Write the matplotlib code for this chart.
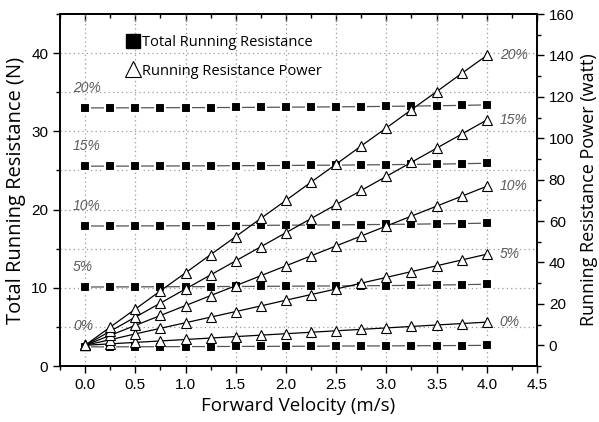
import matplotlib.pyplot as plt
from matplotlib.ticker import MultipleLocator
from matplotlib.lines import Line2D

# forward velocity (m/s)
velocity = [0.0, 0.25, 0.5, 0.75, 1.0, 1.25, 1.5, 1.75, 2.0,
            2.25, 2.5, 2.75, 3.0, 3.25, 3.5, 3.75, 4.0]

grades = ['0%', '5%', '10%', '15%', '20%']

# total running resistance (N), one list per slope
res_0 = [2.45, 2.45, 2.46, 2.47, 2.48, 2.49, 2.50, 2.51, 2.52,
         2.53, 2.55, 2.56, 2.57, 2.59, 2.60, 2.62, 2.64]
res_5 = [10.10, 10.11, 10.12, 10.13, 10.14, 10.15, 10.17, 10.18, 10.20,
         10.22, 10.24, 10.26, 10.28, 10.31, 10.35, 10.40, 10.45]
res_10 = [17.90, 17.90, 17.91, 17.92, 17.93, 17.95, 17.96, 17.98, 18.00,
          18.02, 18.04, 18.07, 18.10, 18.13, 18.17, 18.21, 18.26]
res_15 = [25.55, 25.55, 25.56, 25.57, 25.58, 25.59, 25.61, 25.62, 25.64,
          25.66, 25.68, 25.71, 25.74, 25.77, 25.81, 25.86, 25.92]
res_20 = [33.00, 33.00, 33.01, 33.02, 33.03, 33.04, 33.05, 33.07, 33.09,
          33.11, 33.13, 33.16, 33.19, 33.23, 33.27, 33.32, 33.38]

# running resistance power (watt)
pow_0 = [0.0, 0.7, 1.4, 2.1, 2.8, 3.5, 4.2, 4.9, 5.6,
         6.3, 7.0, 7.7, 8.4, 9.1, 9.8, 10.5, 11.2]
pow_5 = [0.0, 2.7, 5.5, 8.2, 10.9, 13.6, 16.3, 19.0, 21.8,
         24.5, 27.2, 30.0, 32.8, 35.6, 38.4, 41.2, 44.0]
pow_10 = [0.0, 4.8, 9.6, 14.4, 19.2, 24.0, 28.8, 33.6, 38.4,
          43.2, 48.0, 52.8, 57.6, 62.4, 67.2, 72.0, 76.8]
pow_15 = [0.0, 6.8, 13.6, 20.4, 27.2, 34.0, 40.8, 47.6, 54.4,
          61.2, 68.0, 74.8, 81.6, 88.4, 95.2, 102.0, 108.8]
pow_20 = [0.0, 8.8, 17.5, 26.3, 35.0, 43.8, 52.5, 61.3, 70.0,
          78.8, 87.5, 96.3, 105.0, 113.8, 122.5, 131.3, 140.0]

resistance = [res_0, res_5, res_10, res_15, res_20]
power = [pow_0, pow_5, pow_10, pow_15, pow_20]

label_font = 'Open Sans'
tick_font = 'Liberation Sans'
grade_color = '#5a5a5a'

fig = plt.figure(figsize=(5.99, 4.22), dpi=100)
ax = fig.add_axes([0.1002, 0.1327, 0.7963, 0.8341])
ax2 = ax.twinx()

# left axis: resistance, black squares joined by grey lines
for r in resistance:
    ax.plot(velocity, r, color='#555555', lw=0.9, marker='s', ms=6.5,
            mfc='black', mec='white', mew=1.5, zorder=3)

# right axis: power, hollow triangles
for p in power:
    ax2.plot(velocity, p, color='black', lw=0.9, marker='^', ms=7,
             mfc='white', mec='black', mew=0.8, zorder=3)

# slope labels on both sides
for g, r in zip(grades, resistance):
    ax.text(-0.12, r[0] + 2.6, g, fontsize=10, style='italic',
            color=grade_color, family=tick_font, ha='left', va='center')
for g, p in zip(grades, power):
    ax2.text(4.13, p[-1], g, fontsize=10, style='italic',
             color=grade_color, family=tick_font, ha='left', va='center')

ax.set_xlim(-0.25, 4.5)
ax.set_ylim(0, 45)
ax2.set_ylim(-10, 160)

ax.xaxis.set_major_locator(MultipleLocator(0.5))
ax.xaxis.set_minor_locator(MultipleLocator(0.25))
ax.yaxis.set_major_locator(MultipleLocator(10))
ax.yaxis.set_minor_locator(MultipleLocator(5))
ax2.yaxis.set_major_locator(MultipleLocator(20))
ax2.yaxis.set_minor_locator(MultipleLocator(10))

ax.set_xticks([-0.25 + 0.25 * i for i in range(20)], minor=True)
ax.set_xticklabels([f'{v:.1f}' for v in ax.get_xticks()])

ax.tick_params(axis='both', which='major', direction='out', length=5,
               width=1, labelsize=11)
ax.tick_params(axis='both', which='minor', direction='out', length=3,
               width=1)
ax2.tick_params(axis='y', which='major', direction='out', length=5,
                width=1, labelsize=11)
ax2.tick_params(axis='y', which='minor', direction='out', length=3, width=1)

# mirrored ticks along the top, pointing inward
top = ax.secondary_xaxis('top')
top.xaxis.set_major_locator(MultipleLocator(0.5))
top.xaxis.set_minor_locator(MultipleLocator(0.25))
top.tick_params(which='major', direction='in', length=5, width=1,
                labeltop=False)
top.tick_params(which='minor', direction='in', length=3, width=1)

for lab in ax.get_xticklabels() + ax.get_yticklabels() + \
        ax2.get_yticklabels():
    lab.set_family(tick_font)

for a in (ax, ax2):
    for s in a.spines.values():
        s.set_linewidth(1.2)
top.spines['top'].set_linewidth(1.2)

# dotted grid: every 0.5 m/s and every 5 N
for v in [0.5 * i for i in range(9)]:
    ax.axvline(v, color='#9a9a9a', lw=0.9, ls=(0, (1, 2.5)), zorder=1)
for y in range(5, 45, 5):
    ax.axhline(y, color='#9a9a9a', lw=0.9, ls=(0, (1, 2.5)), zorder=1)

ax.set_xlabel('Forward Velocity (m/s)', fontsize=13.5, family=label_font,
              labelpad=4)
ax.set_ylabel('Total Running Resistance (N)', fontsize=14.5,
              family=label_font, labelpad=4)
ax2.set_ylabel('Running Resistance Power (watt)', fontsize=13,
               family=label_font, labelpad=4)

handles = [
    Line2D([], [], ls='none', marker='s', ms=10, mfc='black', mec='black'),
    Line2D([], [], ls='none', marker='^', ms=12, mfc='white', mec='black',
           mew=0.8),
]
ax2.legend(handles, ['Total Running Resistance', 'Running Resistance Power'],
           loc='upper left', bbox_to_anchor=(0.125, 0.96), frameon=False,
           handlelength=0.8, handletextpad=0.2, labelspacing=0.9,
           borderpad=0, prop={'family': label_font, 'size': 10.5})

fig.savefig('out.png', dpi=100)
